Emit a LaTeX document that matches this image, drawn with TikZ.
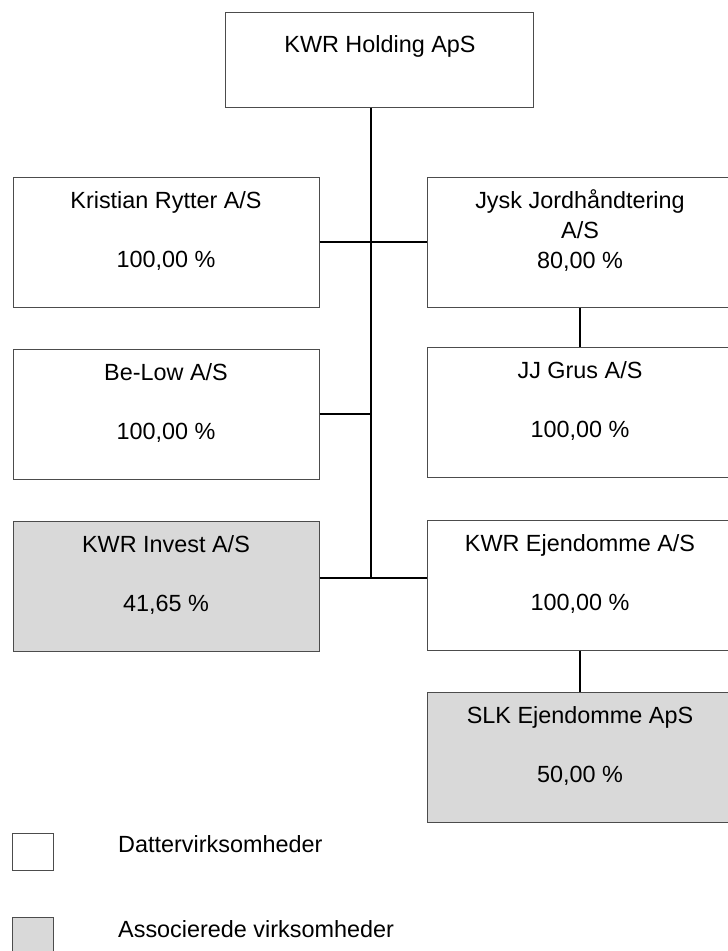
\documentclass[tikz,border=0pt]{standalone}
\usepackage{fontspec}
\setmainfont{Liberation Sans}

\begin{document}
\begin{tikzpicture}[x=1pt,y=-1pt,font=\fontsize{23.4}{30}\selectfont,
    boks/.style={draw=black!70, line width=1pt, fill=white, inner sep=0pt,
      minimum width=306pt, minimum height=130pt},
    assoc/.style={boks, fill=black!15},
    navn/.style={anchor=base, inner sep=0pt},
    linje/.style={line width=1.3pt},
    tyk/.style={line width=2.6pt}]
  \useasboundingbox[fill=white] (0,0) rectangle (728,951);

  % selskaber
  \node[boks, minimum width=308pt, minimum height=95pt] (hold) at (379,59.5) {};
  \node[boks]  (kr)  at (166,242) {};
  \node[boks]  (jy)  at (580,242) {};
  \node[boks]  (bl)  at (166,414) {};
  \node[boks]  (jj)  at (580,412) {};
  \node[assoc] (inv) at (166,586) {};
  \node[boks]  (ejd) at (580,585) {};
  \node[assoc] (slk) at (580,757) {};

  \node[navn] (holdN) at (380,52) {KWR Holding ApS};
  \node[navn] (krN)   at (166,208) {Kristian Rytter A/S};
  \node[navn] (krP)   at (166,267) {100,00 \%};
  \node[navn] (jyN)   at (580,208) {Jysk Jordhåndtering};
  \node[navn] (jyN2)  at (580,238) {A/S};
  \node[navn] (jyP)   at (580,268) {80,00 \%};
  \node[navn] (blN)   at (166,380) {Be-Low A/S};
  \node[navn] (blP)   at (166,439) {100,00 \%};
  \node[navn] (jjN)   at (580,378) {JJ Grus A/S};
  \node[navn] (jjP)   at (580,437) {100,00 \%};
  \node[navn] (invN)  at (166,552) {KWR Invest A/S};
  \node[navn] (invP)  at (166,611) {41,65 \%};
  \node[navn] (ejdN)  at (580,551) {KWR Ejendomme A/S};
  \node[navn] (ejdP)  at (580,610) {100,00 \%};
  \node[navn] (slkN)  at (580,723) {SLK Ejendomme ApS};
  \node[navn] (slkP)  at (580,782) {50,00 \%};

  % forbindelser
  \coordinate (knude) at (371,578);
  \draw[linje] (hold.south -| knude) -- (knude);
  \draw[linje] (kr.east) -- (jy.west);
  \draw[linje] (bl.east) -- (bl.east -| knude);
  \draw[tyk] (inv.east |- knude) -- (ejd.west |- knude);
  \draw[linje] (jy.south) -- (jj.north);
  \draw[linje] (ejd.south) -- (slk.north);

  % forklaring
  \node[boks, minimum width=41pt, minimum height=37pt] (lgD) at (32.5,851.5) {};
  \node[assoc, minimum width=41pt, minimum height=43pt] (lgA) at (32.5,938.5) {};
  \node[navn, anchor=base west] (lgDN) at (118,852) {Dattervirksomheder};
  \node[navn, anchor=base west] (lgAN) at (118,937) {Associerede virksomheder};
\end{tikzpicture}
\end{document}
